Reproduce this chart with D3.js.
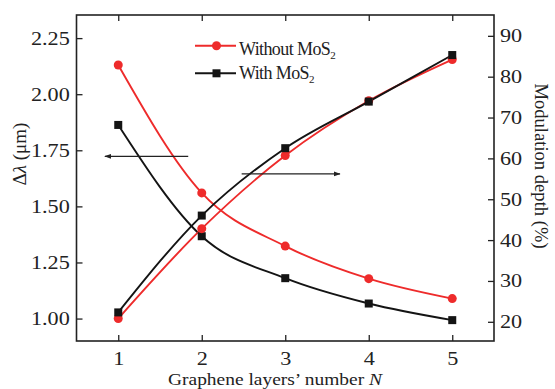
<!DOCTYPE html>
<html><head><meta charset="utf-8">
<script src="https://cdn.jsdelivr.net/npm/d3@7"></script>
<style>
html,body{margin:0;padding:0;background:#fff;}
svg{display:block;font-family:"Liberation Serif","Times New Roman",serif;}
</style></head>
<body><svg id="c" width="555" height="389"></svg>
<script>
const layers = [1, 2, 3, 4, 5];
const dlWithout = [2.13, 1.56, 1.323, 1.178, 1.089];
const dlWith = [1.863, 1.367, 1.18, 1.067, 0.993];
const mdWithout = [20.8, 42.8, 60.7, 74.1, 84.2];
const mdWith = [22.3, 46.0, 62.5, 73.9, 85.3];
const leftTicks = [1.00, 1.25, 1.50, 1.75, 2.00, 2.25];
const rightTicks = [20, 30, 40, 50, 60, 70, 80, 90];
const seriesNames = ["Without MoS", "With MoS"];
const red = "#ee2b2b", blk = "#141414";

const svg = d3.select("#c");
const L = 76.5, R = 494, T = 15, B = 341;
const x = d3.scaleLinear().domain([0.5, 5.5]).range([L, R]);
const yL = d3.scaleLinear().domain([0.9, 2.353]).range([B, T]);
const yR = d3.scaleLinear().domain([15.3, 95.1]).range([B, T]);
const SX = 1.2;

function styleAxis(g){
  g.select(".domain").remove();
  g.selectAll("line").attr("stroke", "#222").attr("stroke-width", 1.3);
  g.selectAll("text").attr("font-size", 18.5).attr("fill", "#222")
    .attr("font-family", "Liberation Serif, serif");
}
// bottom
const gb = svg.append("g").attr("transform", `translate(0,${B})`)
  .call(d3.axisBottom(x).tickValues(layers).tickFormat(d3.format("d")).tickSize(-6).tickPadding(11));
styleAxis(gb);
gb.selectAll("text").attr("transform", `scale(${SX},1)`).attr("x", 0);
// top
const gt = svg.append("g").attr("transform", `translate(0,${T})`)
  .call(d3.axisTop(x).tickValues(layers).tickFormat("").tickSize(-6));
styleAxis(gt);
// left
const gl = svg.append("g").attr("transform", `translate(${L},0)`)
  .call(d3.axisLeft(yL).tickValues(leftTicks).tickFormat(d3.format(".2f")).tickSize(-6).tickPadding(5.6));
styleAxis(gl);
gl.selectAll("text").attr("transform", `scale(${SX},1)`);
// right
const gr = svg.append("g").attr("transform", `translate(${R},0)`)
  .call(d3.axisRight(yR).tickValues(rightTicks).tickFormat(d3.format("d")).tickSize(-6).tickPadding(5));
styleAxis(gr);
gr.selectAll("text").attr("transform", `scale(${SX},1)`);

// frame
svg.append("rect").attr("x", L).attr("y", T).attr("width", R - L).attr("height", B - T)
  .attr("fill", "none").attr("stroke", "#222").attr("stroke-width", 1.6);

// titles
svg.append("text").attr("x", 168).attr("y", 385)
  .attr("font-size", 17.5).attr("fill", "#222")
  .attr("textLength", 214).attr("lengthAdjust", "spacingAndGlyphs")
  .call(t => { t.append("tspan").text("Graphene layers’ number "); t.append("tspan").attr("font-style", "italic").text("N"); });
svg.append("text").attr("transform", "translate(26,154) rotate(-90)").attr("text-anchor", "middle")
  .attr("font-size", 19).attr("fill", "#222")
  .call(t => { t.append("tspan").text("Δ"); t.append("tspan").attr("font-style", "italic").text("λ"); t.append("tspan").text(" (μm)"); });
svg.append("text").attr("transform", "translate(535,166) rotate(90)").attr("text-anchor", "middle")
  .attr("font-size", 18.6).attr("fill", "#222").text("Modulation depth (%)");

// lines
const lineL = d3.line().x((d, i) => x(layers[i])).y(d => yL(d)).curve(d3.curveMonotoneX);
const lineR = d3.line().x((d, i) => x(layers[i])).y(d => yR(d)).curve(d3.curveMonotoneX);
const series = [
  {v: dlWithout, line: lineL, y: yL, c: red, m: "circle"},
  {v: dlWith, line: lineL, y: yL, c: blk, m: "square"},
  {v: mdWithout, line: lineR, y: yR, c: red, m: "circle"},
  {v: mdWith, line: lineR, y: yR, c: blk, m: "square"}
];
series.forEach(s => {
  svg.append("path").attr("d", s.line(s.v)).attr("fill", "none").attr("stroke", s.c).attr("stroke-width", 1.9);
});
series.forEach(s => {
  const g = svg.append("g");
  s.v.forEach((d, i) => {
    if (s.m === "circle") g.append("circle").attr("cx", x(layers[i])).attr("cy", s.y(d)).attr("r", 4.5).attr("fill", s.c);
    else g.append("rect").attr("x", x(layers[i]) - 4).attr("y", s.y(d) - 4).attr("width", 8).attr("height", 8).attr("fill", s.c);
  });
});

// arrows
svg.append("defs").append("marker").attr("id", "ah").attr("viewBox", "0 0 10 10").attr("refX", 9).attr("refY", 5)
  .attr("markerWidth", 7).attr("markerHeight", 7).attr("markerUnits", "userSpaceOnUse").attr("orient", "auto")
  .append("path").attr("d", "M0,1.5 L10,5 L0,8.5 Z").attr("fill", "#222");
svg.append("line").attr("x1", x(1.838)).attr("y1", yL(1.723)).attr("x2", x(0.84)).attr("y2", yL(1.723))
  .attr("stroke", "#222").attr("stroke-width", 1.2).attr("marker-end", "url(#ah)");
svg.append("line").attr("x1", x(2.478)).attr("y1", yR(56.2)).attr("x2", x(3.655)).attr("y2", yR(56.2))
  .attr("stroke", "#222").attr("stroke-width", 1.2).attr("marker-end", "url(#ah)");

// legend
const leg = [{c: red, m: "circle", y: 45.7, ty: 55}, {c: blk, m: "square", y: 73.3, ty: 78.5}];
leg.forEach((l, i) => {
  svg.append("line").attr("x1", 195).attr("x2", 236).attr("y1", l.y).attr("y2", l.y).attr("stroke", l.c).attr("stroke-width", 1.9);
  if (l.m === "circle") svg.append("circle").attr("cx", 216.5).attr("cy", l.y).attr("r", 4.5).attr("fill", l.c);
  else svg.append("rect").attr("x", 212.5).attr("y", l.y - 4).attr("width", 8).attr("height", 8).attr("fill", l.c);
  svg.append("text").attr("x", 239).attr("y", l.ty).attr("font-size", 18).attr("fill", "#222")
    .attr("letter-spacing", -0.6)
    .call(t => { t.append("tspan").text(seriesNames[i]); t.append("tspan").attr("font-size", 11).attr("dy", 4).text("2"); });
});
</script></body></html>
